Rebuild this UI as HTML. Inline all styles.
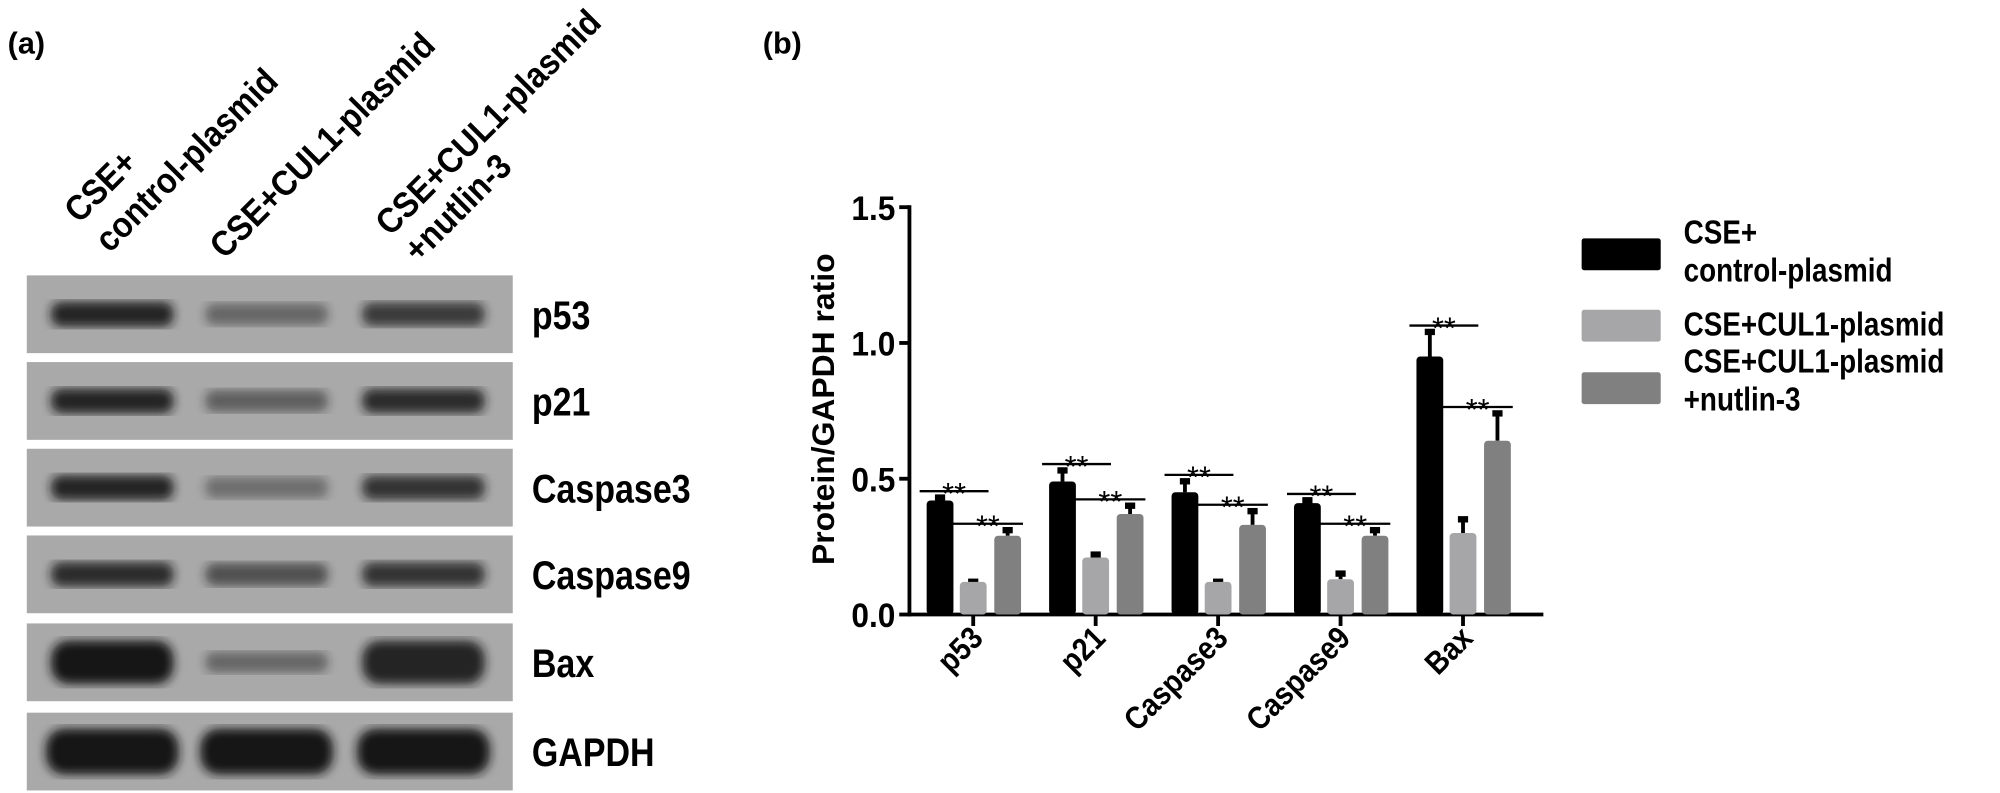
<!DOCTYPE html>
<html><head><meta charset="utf-8"><style>
body{margin:0;background:#fff;overflow:hidden;}
svg{display:block;font-family:"Liberation Sans",Arial,sans-serif;}
</style></head><body>
<svg width="2000" height="793" viewBox="0 0 1568 622" preserveAspectRatio="none">
<defs>
<filter id="blur"><feGaussianBlur stdDeviation="4"/></filter>
</defs>
<text x="6" y="42" font-size="24" font-weight="bold">(a)</text>
<text x="598" y="42" font-size="24" font-weight="bold">(b)</text>
<g id="lanes" font-size="28" font-weight="bold"></g>
<g id="blots"></g>
<g id="chart"></g>
<g id="legend"></g>
</svg>
<script>
const blotNames=["p53","p21","Caspase3","Caspase9","Bax","GAPDH"];
const bandIntensity=[[0.9,0.45,0.75],[0.9,0.5,0.85],[0.9,0.4,0.8],[0.85,0.6,0.8],[1,0.45,0.9],[1,1,1]];
const categories=["p53","p21","Caspase3","Caspase9","Bax"];
const seriesNames=["CSE+\ncontrol-plasmid","CSE+CUL1-plasmid","CSE+CUL1-plasmid\n+nutlin-3"];
const ctrlVals=[0.42,0.49,0.45,0.41,0.95];
const culVals=[0.12,0.21,0.12,0.13,0.30];
const nutVals=[0.29,0.37,0.33,0.29,0.64];
const ctrlErr=[0.02,0.05,0.05,0.02,0.10];
const culErr=[0.01,0.02,0.01,0.03,0.06];
const nutErr=[0.03,0.04,0.06,0.03,0.11];
const yTicks=["0.0","0.5","1.0","1.5"];
const NS="http://www.w3.org/2000/svg";
function mk(tag,attrs,parent){const e=document.createElementNS(NS,tag);for(const k in attrs)e.setAttribute(k,attrs[k]);parent.appendChild(e);return e;}
function condense(t,f){const L=t.getComputedTextLength();if(L>0){t.setAttribute('textLength',(L*f).toFixed(1));t.setAttribute('lengthAdjust','spacingAndGlyphs');}}
// lane labels
const lanes=document.getElementById('lanes');
const laneText=["CSE+","control-plasmid","CSE+CUL1-plasmid","CSE+CUL1-plasmid","+nutlin-3"];
const lanePos=[[62,176],[86,199],[176,204],[306,186],[328,207]];
laneText.forEach((s,i)=>{
  const t=mk('text',{transform:`translate(${lanePos[i][0]},${lanePos[i][1]}) rotate(-45)`},lanes);
  t.textContent=s;
  
  
  condense(t,0.9);
});
// blots
const blots=document.getElementById('blots');
const rowTop=[216,284,352,420,489,559];
const laneX=[88,209,332];
blotNames.forEach((n,i)=>{
  const y=rowTop[i];
  const r=mk('rect',{x:21,y:y,width:381,height:61,fill:'#a9a9a9'},blots);
  
  
  bandIntensity[i].forEach((v,j)=>{
    const h=i==5?36:(i==4?(v>0.8?34:16):(14+6*v));
    const w=i==5?104:96;
    const e=mk('rect',{x:laneX[j]-w/2,y:y+30.5-h/2,width:w,height:h,rx:h/2.5,fill:'#151515',opacity:v,filter:'url(#blur)'},blots);
    
    
  });
  const t=mk('text',{x:417,y:y+42,'font-size':31,'font-weight':'bold'},blots);
  t.textContent=n;
  
  
  condense(t,0.86);
});
// chart
const ch=document.getElementById('chart');
const X0=713,Y0=482,PX=213;
const yScale=v=>Y0-v*PX;
const groupX=i=>763+i*96;
mk('line',{x1:X0,y1:yScale(1.5)-1.5,x2:X0,y2:Y0+1.5,stroke:'#000','stroke-width':3},ch);
mk('line',{x1:X0-1.5,y1:Y0,x2:1210,y2:Y0,stroke:'#000','stroke-width':3},ch);
yTicks.forEach(t=>{
  const v=parseFloat(t),y=yScale(v);
  mk('line',{x1:X0-8,y1:y,x2:X0,y2:y,stroke:'#000','stroke-width':3},ch);
  const tx=mk('text',{x:X0-11,y:y+10,'font-size':27,'font-weight':'bold','text-anchor':'end'},ch);
  tx.textContent=t;
  
  
  condense(tx,0.92);
});
const yt=mk('text',{transform:'translate(654,321) rotate(-90)','font-size':25,'font-weight':'bold','text-anchor':'middle'},ch);
yt.textContent='Protein/GAPDH ratio';


const colors=['#000','#a6a6a8','#808080'];
const vals=[ctrlVals,culVals,nutVals],errs=[ctrlErr,culErr,nutErr];
const offs=[-26,0,27],bw=21;
categories.forEach((c,i)=>{
  const gx=groupX(i);
  mk('line',{x1:gx,y1:Y0,x2:gx,y2:Y0+9,stroke:'#000','stroke-width':3},ch);
  const lbl=mk('text',{transform:`translate(${gx+9},${Y0+20}) rotate(-45)`,'font-size':25,'font-weight':'bold','text-anchor':'end'},ch);
  lbl.textContent=c;
  
  
  condense(lbl,0.88);
  const tops=[];
  for(let s=0;s<3;s++){
    const v=vals[s][i],e=errs[s][i],cx=gx+offs[s];
    const top=yScale(v),et=yScale(v+e);
    tops.push(et);
    mk('line',{x1:cx,y1:top,x2:cx,y2:et,stroke:'#000','stroke-width':3},ch);
    mk('line',{x1:cx-4,y1:et+2,x2:cx+4,y2:et+2,stroke:'#000','stroke-width':5},ch);
    const b=mk('rect',{x:cx-bw/2,y:top,width:bw,height:Y0-top,rx:3,fill:colors[s]},ch);
    
    
  }
  [[0,1],[1,2]].forEach(([a,b],k)=>{
    const yy=(k==0?tops[0]:tops[2])-3;
    const x1=gx+offs[a]-16,x2=gx+offs[b]+12;
    mk('line',{x1:x1,y1:yy,x2:x2,y2:yy,stroke:'#000','stroke-width':1.8},ch);
    const st=mk('text',{x:(x1+x2)/2,y:yy+10,'font-size':24,'text-anchor':'middle'},ch);
    st.textContent='**';
    
    
  });
});
// legend
const lg=document.getElementById('legend');
const swY=[187,243,292];
const txtY=[[191,221],[263],[292,322]];
seriesNames.forEach((n,s)=>{
  const r=mk('rect',{x:1240,y:swY[s],width:62,height:25,rx:2,fill:colors[s]},lg);
  
  
  n.split('\n').forEach((l,k)=>{
    const t=mk('text',{x:1320,y:txtY[s][k],'font-size':26,'font-weight':'bold'},lg);
    t.textContent=l;
    
    
    condense(t,0.84);
  });
});
</script>
</body></html>
